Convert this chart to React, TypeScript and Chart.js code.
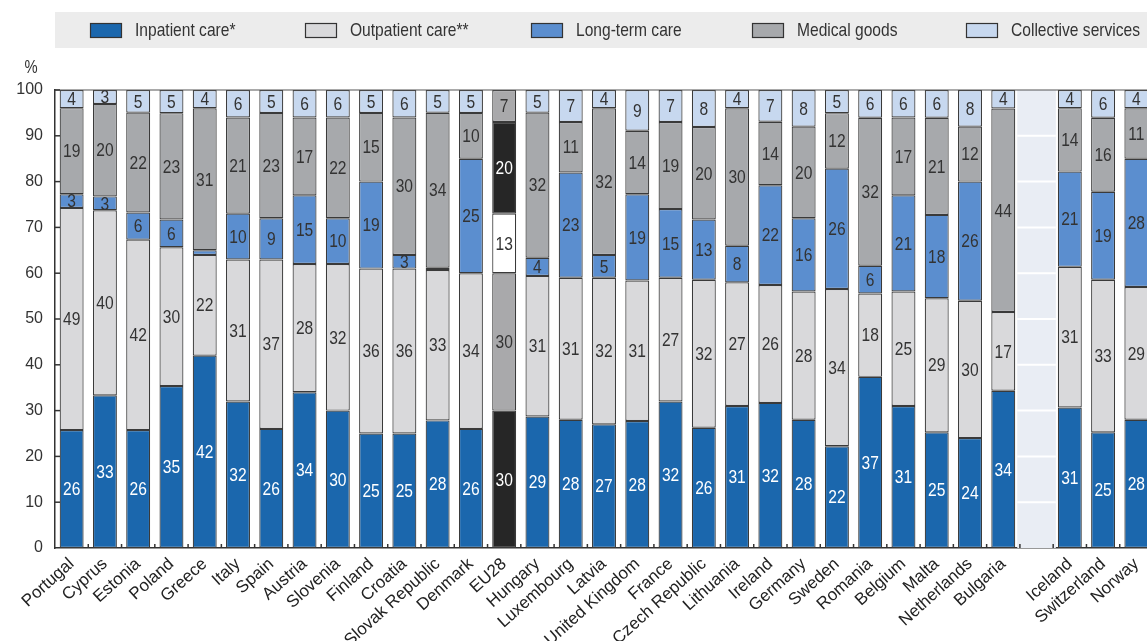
import React, { useEffect, useRef } from "react";
import { Chart, registerables } from "chart.js";

Chart.register(...registerables);

const FONT = "'Liberation Sans', Arial, sans-serif";
const NARROW = 0.82;

const categories = [
  "Portugal", "Cyprus", "Estonia", "Poland", "Greece", "Italy", "Spain", "Austria", "Slovenia", "Finland",
  "Croatia", "Slovak Republic", "Denmark", "EU28", "Hungary", "Luxembourg", "Latvia", "United Kingdom", "France", "Czech Republic",
  "Lithuania", "Ireland", "Germany", "Sweden", "Romania", "Belgium", "Malta", "Netherlands", "Bulgaria", "",
  "Iceland", "Switzerland", "Norway",
];

const inpatient = [26, 33, 26, 35, 42, 32, 26, 34, 30, 25, 25, 28, 26, 30, 29, 28, 27, 28, 32, 26, 31, 32, 28, 22, 37, 31, 25, 24, 34, null, 31, 25, 28];
const outpatient = [49, 40, 42, 30, 22, 31, 37, 28, 32, 36, 36, 33, 34, 30, 31, 31, 32, 31, 27, 32, 27, 26, 28, 34, 18, 25, 29, 30, 17, null, 31, 33, 29];
const longTerm = [3, 3, 6, 6, 1, 10, 9, 15, 10, 19, 3, 0.5, 25, 13, 4, 23, 5, 19, 15, 13, 8, 22, 16, 26, 6, 21, 18, 26, 0, null, 21, 19, 28];
const medicalGoods = [19, 20, 22, 23, 31, 21, 23, 17, 22, 15, 30, 34, 10, 20, 32, 11, 32, 14, 19, 20, 30, 14, 20, 12, 32, 17, 21, 12, 44, null, 14, 16, 11];
const collective = [4, 3, 5, 5, 4, 6, 5, 6, 6, 5, 6, 5, 5, 7, 5, 7, 4, 9, 7, 8, 4, 7, 8, 5, 6, 6, 6, 8, 4, null, 4, 6, 4];

const seriesLabels = ["Inpatient care*", "Outpatient care**", "Long-term care", "Medical goods", "Collective services"];
const seriesValues = [inpatient, outpatient, longTerm, medicalGoods, collective];
const seriesColors = ["#1b67ad", "#d9d9db", "#5b8ecf", "#a7a9ac", "#c7d8ef"];
const highlightColors = ["#262626", "#a9a9ab", "#ffffff", "#262626", "#a9a9ab"];
const labelColors = ["#ffffff", "#333333", "#333333", "#333333", "#333333"];
const highlightLabelColors = ["#ffffff", "#333333", "#333333", "#ffffff", "#333333"];
const highlightCategory = "EU28";
const yTicks = [0, 10, 20, 30, 40, 50, 60, 70, 80, 90, 100];

const totals = categories.map((_, i) =>
  seriesValues.reduce((s, arr) => s + (arr[i] == null ? 0 : (arr[i] as number)), 0)
);
const shares = seriesValues.map((arr) =>
  arr.map((v, i) => (v == null ? null : ((v as number) / totals[i]) * 100))
);

const legendBoxX = [90, 305, 531, 752, 966];

function narrowText(ctx: CanvasRenderingContext2D, text: string, x: number, y: number, align: CanvasTextAlign) {
  ctx.save();
  ctx.translate(x, y);
  ctx.scale(NARROW, 1);
  ctx.textAlign = align;
  ctx.fillText(text, 0, 0);
  ctx.restore();
}

const decorPlugin = {
  id: "decor",
  beforeDraw(chart: any) {
    const { ctx, width, height, chartArea } = chart;
    ctx.save();
    ctx.fillStyle = "#ffffff";
    ctx.fillRect(0, 0, width, height);
    // legend band
    ctx.fillStyle = "#ececec";
    ctx.fillRect(chartArea.left, 12, width - chartArea.left, 36);
    ctx.font = `19px ${FONT}`;
    ctx.textBaseline = "middle";
    seriesLabels.forEach((lab, i) => {
      const bx = legendBoxX[i];
      ctx.fillStyle = seriesColors[i];
      ctx.fillRect(bx, 23, 32, 15);
      ctx.strokeStyle = "#333";
      ctx.lineWidth = 1.2;
      ctx.strokeRect(bx + 0.5, 23.5, 31, 14);
      ctx.fillStyle = "#333";
      narrowText(ctx, lab, bx + 45, 31, "left");
    });
    // % label
    ctx.fillStyle = "#333";
    ctx.font = `18px ${FONT}`;
    narrowText(ctx, "%", 31, 68, "center");
    ctx.restore();
  },
  beforeDatasetsDraw(chart: any) {
    const { ctx, chartArea, scales } = chart;
    const xs = scales.x;
    const ys = scales.y;
    const meta = chart.getDatasetMeta(0);
    const pitch = xs.getPixelForValue(1) - xs.getPixelForValue(0);
    const barW = meta.data[0].width;
    ctx.save();
    categories.forEach((c, i) => {
      if (c !== "") return;
      const cx = xs.getPixelForValue(i);
      const left = cx - pitch + barW / 2 + 2;
      const right = cx + pitch - barW / 2 - 2;
      ctx.fillStyle = "#e9edf4";
      ctx.fillRect(left, chartArea.top, right - left, chartArea.bottom - chartArea.top);
      ctx.strokeStyle = "#ffffff";
      ctx.lineWidth = 2;
      yTicks.slice(1, -1).forEach((t) => {
        const y = ys.getPixelForValue(t);
        ctx.beginPath();
        ctx.moveTo(left, y);
        ctx.lineTo(right, y);
        ctx.stroke();
      });
    });
    ctx.restore();
  },
  afterDatasetsDraw(chart: any) {
    const { ctx, chartArea, scales } = chart;
    const xs = scales.x;
    const ys = scales.y;
    const pitch = xs.getPixelForValue(1) - xs.getPixelForValue(0);
    ctx.save();
    // top line
    ctx.strokeStyle = "#555";
    ctx.lineWidth = 1.2;
    ctx.beginPath();
    ctx.moveTo(chartArea.left, ys.getPixelForValue(100));
    ctx.lineTo(chartArea.right, ys.getPixelForValue(100));
    ctx.stroke();
    // y tick marks inside
    ctx.strokeStyle = "#333";
    ctx.lineWidth = 1.5;
    yTicks.slice(1).forEach((t) => {
      const y = ys.getPixelForValue(t);
      ctx.beginPath();
      ctx.moveTo(chartArea.left, y);
      ctx.lineTo(chartArea.left + 5, y);
      ctx.stroke();
    });
    // x category boundary ticks
    for (let i = 1; i < categories.length; i++) {
      const x = xs.getPixelForValue(i) - pitch / 2;
      ctx.beginPath();
      ctx.moveTo(x, chartArea.bottom);
      ctx.lineTo(x, chartArea.bottom - 4);
      ctx.stroke();
    }
    // data labels
    ctx.font = `19px ${FONT}`;
    ctx.textBaseline = "middle";
    seriesValues.forEach((arr, d) => {
      const meta = chart.getDatasetMeta(d);
      arr.forEach((v, i) => {
        if (v == null || (v as number) < 2) return;
        const el = meta.data[i];
        const cy = (el.y + el.base) / 2;
        const hl = categories[i] === highlightCategory;
        ctx.fillStyle = hl ? highlightLabelColors[d] : labelColors[d];
        narrowText(ctx, String(v), el.x, cy + 1, "center");
      });
    });
    ctx.restore();
  },
};

export default function App() {
  const canvasRef = useRef<HTMLCanvasElement | null>(null);

  useEffect(() => {
    if (!canvasRef.current) return;
    const chart = new Chart(canvasRef.current, {
      type: "bar",
      data: {
        labels: categories,
        datasets: seriesLabels.map((lab, d) => ({
          label: lab,
          data: shares[d],
          backgroundColor: (ctx: any) =>
            categories[ctx.dataIndex] === highlightCategory ? highlightColors[d] : seriesColors[d],
          borderColor: "#3a3a3a",
          borderWidth: 1.2,
          borderSkipped: false,
          categoryPercentage: 1,
          barPercentage: 0.72,
        })),
      },
      options: {
        responsive: false,
        animation: false,
        layout: { padding: { top: 90, right: 15, left: 0, bottom: 0 } },
        plugins: { legend: { display: false }, tooltip: { enabled: false } },
        scales: {
          x: {
            stacked: true,
            grid: { display: false, drawTicks: false },
            border: { display: true, color: "#333", width: 1.5 },
            ticks: {
              autoSkip: false,
              maxRotation: 42,
              minRotation: 42,
              padding: 6,
              color: "#222",
              font: { family: FONT, size: 17 },
            },
            afterFit: (s: any) => {
              s.height = 93;
            },
          },
          y: {
            stacked: true,
            min: 0,
            max: 100,
            ticks: { stepSize: 10, padding: 12, color: "#333", font: { family: FONT, size: 16 } },
            grid: { display: false, drawTicks: false },
            border: { display: true, color: "#333", width: 1.5 },
            afterFit: (s: any) => {
              s.width = 55;
            },
          },
        },
      },
      plugins: [decorPlugin],
    } as any);
    return () => chart.destroy();
  }, []);

  return (
    <div
      style={{
        position: "fixed",
        left: 0,
        top: 0,
        width: 1147,
        height: 641,
        overflow: "hidden",
        background: "#fff",
      }}
    >
      <canvas ref={canvasRef} width={1168} height={641} style={{ display: "block" }} />
    </div>
  );
}
